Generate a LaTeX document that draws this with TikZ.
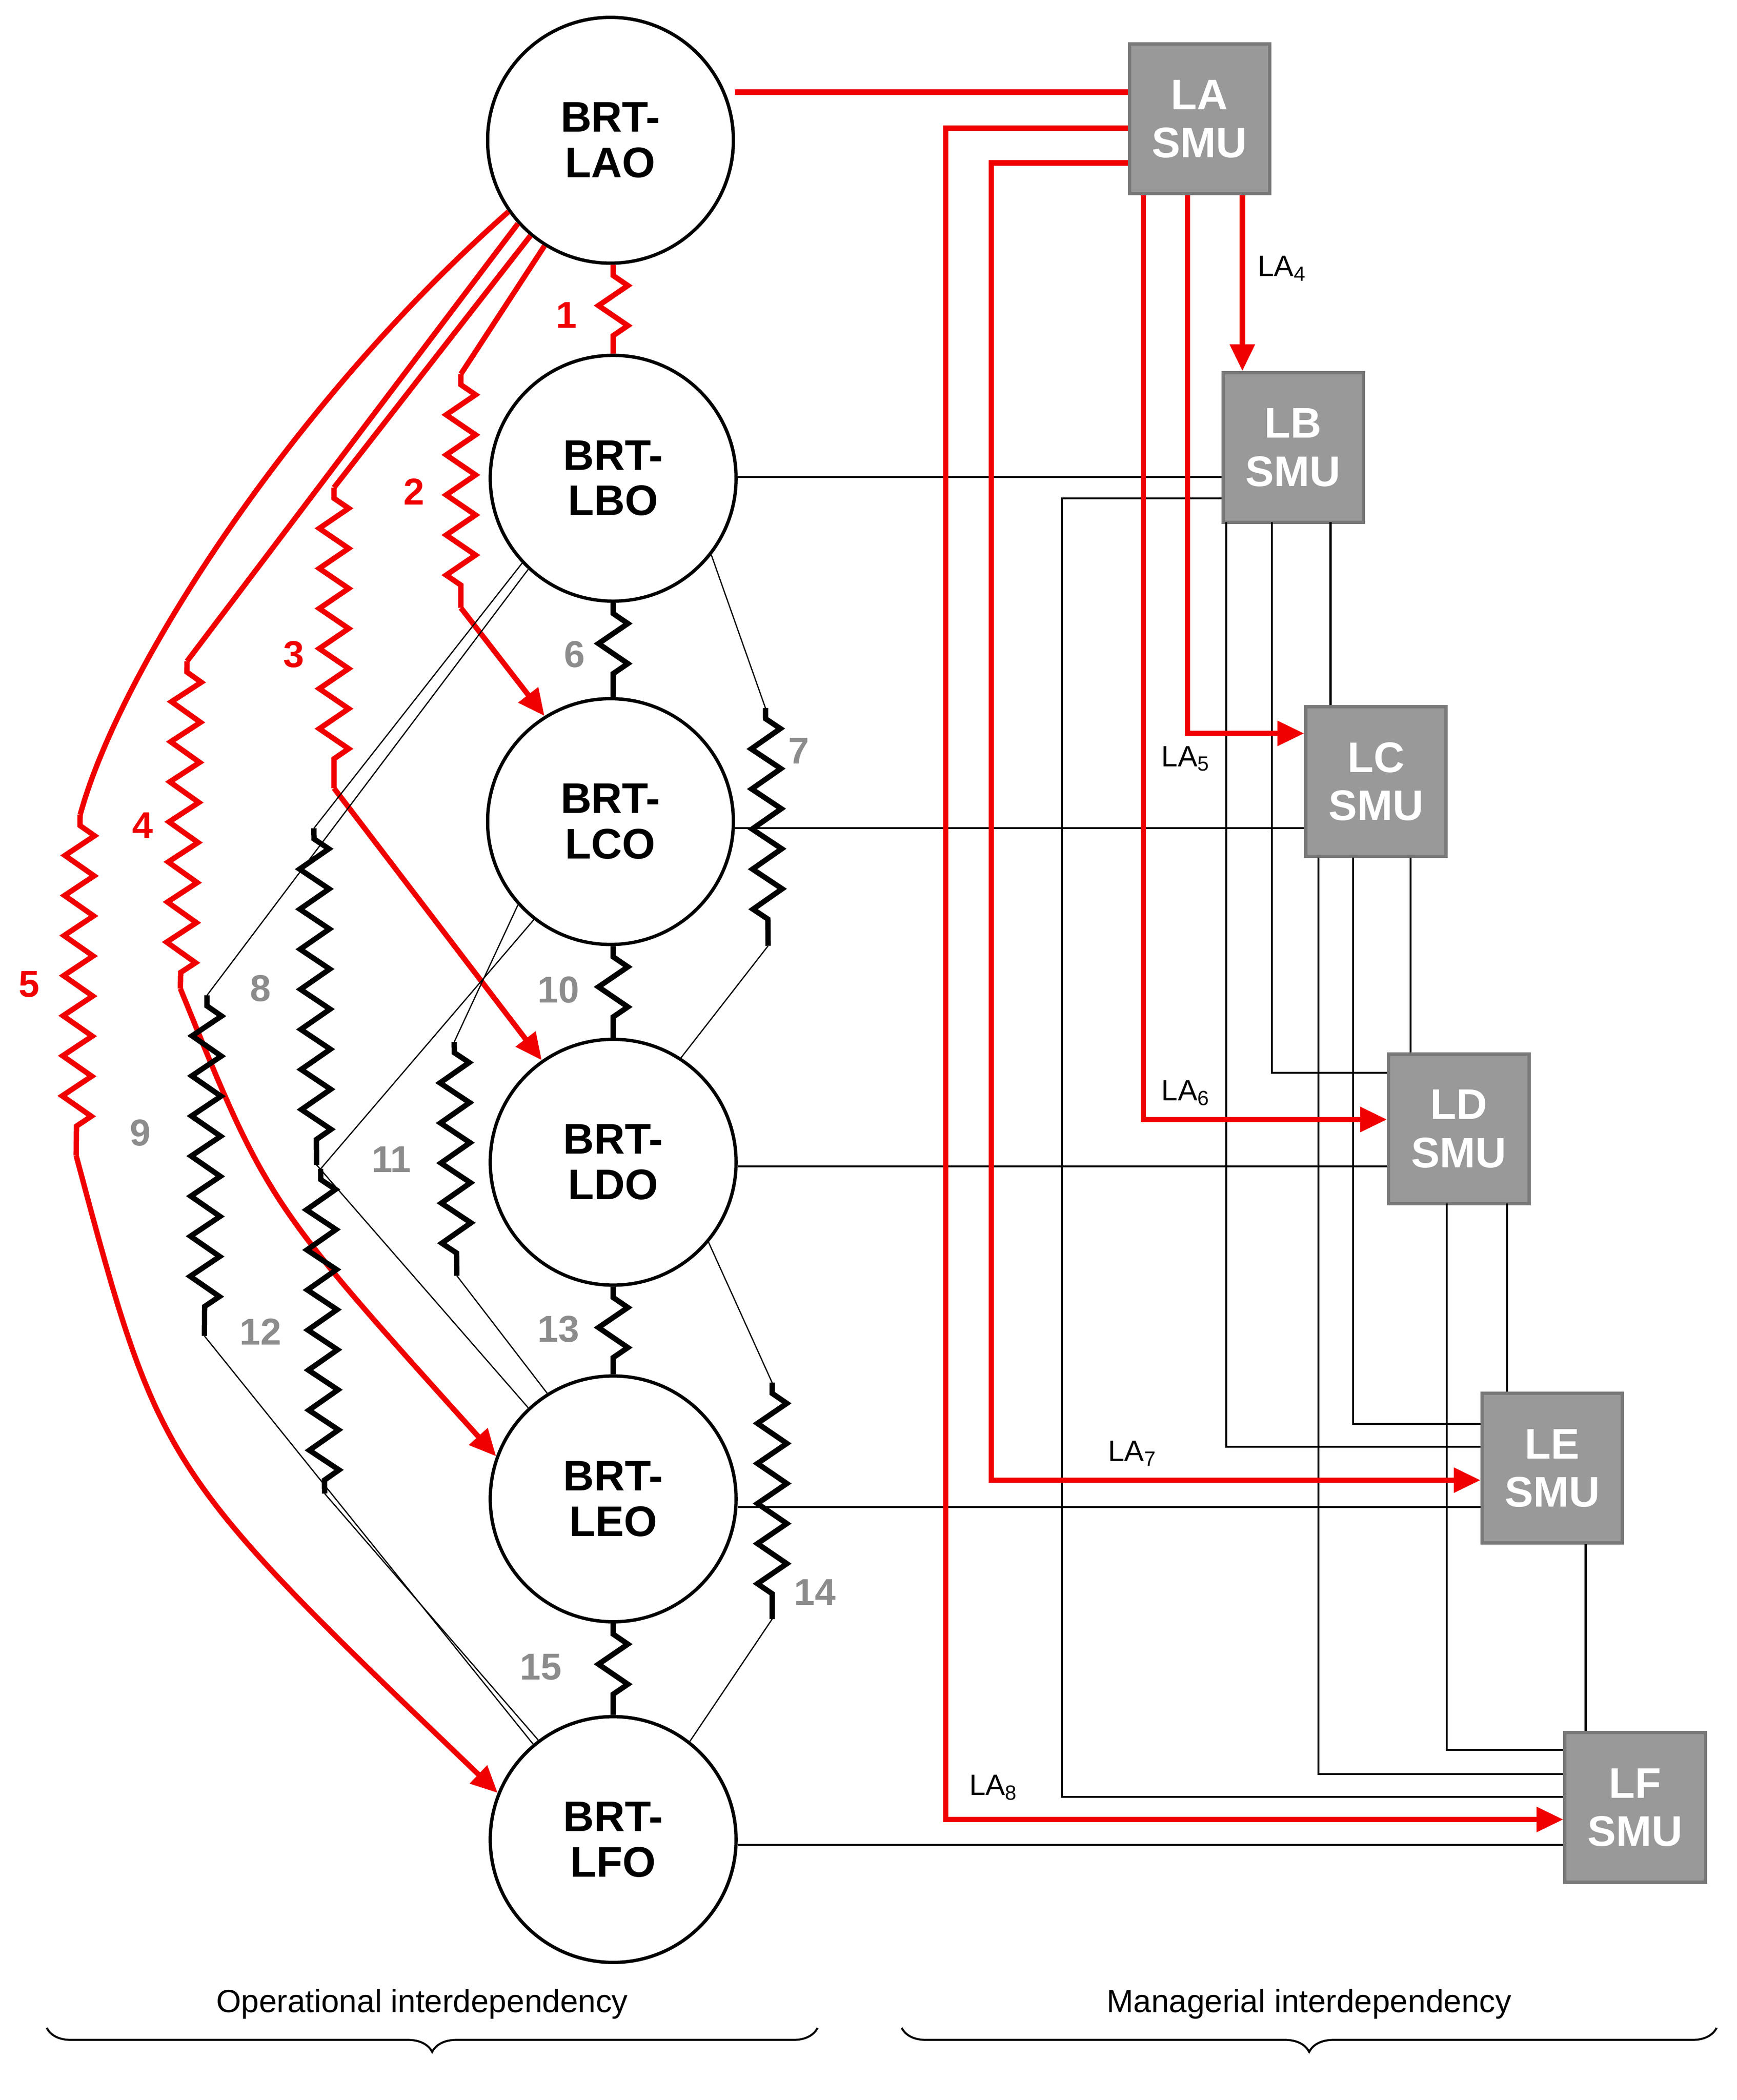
\documentclass[tikz,border=0pt]{standalone}
\usepackage{fontspec}
\setmainfont{Liberation Sans}
\usetikzlibrary{arrows.meta,decorations.pathmorphing,decorations.pathreplacing}
\definecolor{rd}{RGB}{240,0,0}
\definecolor{bx}{RGB}{153,153,153}
\definecolor{bxl}{RGB}{120,120,120}
\definecolor{gnum}{RGB}{140,140,140}
\begin{document}
\begin{tikzpicture}[x=1pt,y=-1pt,
 brt/.style={circle,draw,line width=2.5pt,minimum size=184pt,inner sep=0pt,align=center,font=\fontsize{32}{34}\selectfont\bfseries},
 smu/.style={rectangle,draw=bxl,fill=bx,line width=2.5pt,minimum width=105pt,minimum height=112pt,align=center,text=white,font=\fontsize{32}{36}\selectfont\bfseries},
 red/.style={draw=rd,line width=4pt},
 ra/.style={red,-{Triangle[length=20pt,width=18pt]}},
 thin/.style={draw=black,line width=1.5pt},
 hair/.style={draw=black,line width=0.9pt},
 spr/.style={decorate,decoration={zigzag,segment length=30pt,amplitude=11pt,pre length=8pt,post length=8pt}},
 bs/.style={draw=black,line width=4pt},
 lab/.style={font=\fontsize{22}{22}\selectfont},
 num/.style={font=\fontsize{28}{28}\selectfont\bfseries,text=gnum},
 rnum/.style={font=\fontsize{28}{28}\selectfont\bfseries,text=rd},
 bt/.style={font=\fontsize{24}{24}\selectfont}]
\useasboundingbox (0,0) rectangle (1300,1572);
% nodes
\node[brt] (lao) at (457,105) {BRT-\\LAO};
\node[brt] (lbo) at (459,358) {BRT-\\LBO};
\node[brt] (lco) at (457,615) {BRT-\\LCO};
\node[brt] (ldo) at (459,870) {BRT-\\LDO};
\node[brt] (leo) at (459,1122) {BRT-\\LEO};
\node[brt] (lfo) at (459,1377) {BRT-\\LFO};
\node[smu] (la) at (898,89) {LA\\SMU};
\node[smu] (lb) at (968,335) {LB\\SMU};
\node[smu] (lc) at (1030,585) {LC\\SMU};
\node[smu] (ld) at (1092,845) {LD\\SMU};
\node[smu] (le) at (1162,1099) {LE\\SMU};
\node[smu] (lf) at (1224,1353) {LF\\SMU};
% managerial black
\draw[thin] (lbo.east |- 0,357) -- (lb.west |- 0,357);
\draw[thin] (lco.east |- 0,620) -- (lc.west |- 0,620);
\draw[thin] (ldo.east |- 0,873) -- (ld.west |- 0,873);
\draw[thin] (leo.east |- 0,1128) -- (le.west |- 0,1128);
\draw[thin] (lfo.east |- 0,1381) -- (lf.west |- 0,1381);
\draw[thin] (lb.west |- 0,373) -| (795,1345) -- (lf.west |- 0,1345);
\draw[thin] (918,391) |- (le.west |- 0,1083);
\draw[thin] (952,391) |- (ld.west |- 0,803);
\draw[thin] (996,391) -- (lc.north -| 996,0);
\draw[thin] (987,642) |- (lf.west |- 0,1328);
\draw[thin] (1013,642) |- (le.west |- 0,1066);
\draw[thin] (1056,642) -- (ld.north -| 1056,0);
\draw[thin] (1083,901) |- (lf.west |- 0,1310);
\draw[thin] (1128,901) -- (le.north -| 1128,0);
\draw[thin] (1187,1156) -- (lf.north -| 1187,0);
% managerial red
\draw[red] (lao.east |- 0,69) -- (la.west |- 0,69);
\draw[ra] (la.west |- 0,96) -| (708,1362) -- (lf.west |- 0,1362);
\draw[ra] (la.west |- 0,122) -| (742,1108) -- (le.west |- 0,1108);
\draw[ra] (856,146) |- (ld.west |- 0,838);
\draw[ra] (889,146) |- (lc.west |- 0,549);
\draw[ra] (930,146) -- (lb.north -| 930,0);
\node[lab,anchor=west] at (938,201) {LA\textsubscript{4}};
\node[lab,anchor=west] at (866,568) {LA\textsubscript{5}};
\node[lab,anchor=west] at (866,818) {LA\textsubscript{6}};
\node[lab,anchor=west] at (826,1088) {LA\textsubscript{7}};
\node[lab,anchor=west] at (722,1338) {LA\textsubscript{8}};
% vertical springs between circles
\draw[red,spr] (lao.south -| 459,0) -- (lbo.north -| 459,0);
\draw[bs,spr] (lbo.south -| 459,0) -- (lco.north -| 459,0);
\draw[bs,spr] (lco.south -| 459,0) -- (ldo.north -| 459,0);
\draw[bs,spr] (ldo.south -| 459,0) -- (leo.north -| 459,0);
\draw[bs,spr] (leo.south -| 459,0) -- (lfo.north -| 459,0);
\node[rnum] at (424,236) {1};
\node[num] at (430,490) {6};
\node[num] at (418,741) {10};
\node[num] at (418,995) {13};
\node[num] at (405,1248) {15};
% red operational
\draw[red] (lao.-122) -- (345,280);
\draw[red,spr] (345,280) -- (345,455);
\draw[ra] (345,455) -- (lco.122);
\node[rnum] at (310,368) {2};
\draw[red] (lao.-130) -- (250,365);
\draw[red,spr] (250,365) -- (250,590);
\draw[ra] (250,590) -- (ldo.125);
\node[rnum] at (220,490) {3};
\draw[red] (lao.-138) -- (140,495);
\draw[red,spr] (140,495) -- (135,740);
\draw[ra] (135,740) .. controls (200,900) .. (leo.160);
\node[rnum] at (107,618) {4};
\draw[red] (lao.-145) .. controls (220,300) and (90,500) .. (60,610);
\draw[red,spr] (60,610) -- (57,865);
\draw[ra] (57,865) .. controls (120,1100) .. (lfo.158);
\node[rnum] at (22,737) {5};
% black operational
\draw[hair] (lbo.-38) -- (573,530);
\draw[bs,spr] (573,530) -- (575,708);
\draw[hair] (575,708) -- (ldo.57);
\node[num] at (598,562) {7};
\draw[hair] (ldo.-40) -- (578,1035);
\draw[bs,spr] (578,1035) -- (578,1212);
\draw[hair] (578,1212) -- (lfo.52);
\node[num] at (610,1192) {14};
\draw[hair] (lbo.-137) -- (235,620);
\draw[bs,spr] (235,620) -- (237,872);
\draw[hair] (237,872) -- (leo.133);
\node[num] at (195,740) {8};
\draw[hair] (lbo.-133) -- (155,745);
\draw[bs,spr] (155,745) -- (153,1000);
\draw[hair] (153,1000) -- (lfo.130);
\node[num] at (105,848) {9};
\draw[hair] (lco.-138) -- (340,780);
\draw[bs,spr] (340,780) -- (342,955);
\draw[hair] (342,955) -- (leo.122);
\node[num] at (293,868) {11};
\draw[hair] (lco.-128) -- (240,875);
\draw[bs,spr] (240,875) -- (243,1118);
\draw[hair] (243,1118) -- (lfo.127);
\node[num] at (195,997) {12};
% braces
\draw[line width=1.5pt,decorate,decoration={brace,mirror,amplitude=18pt}] (35,1518) -- (612,1518);
\draw[line width=1.5pt,decorate,decoration={brace,mirror,amplitude=18pt}] (675,1518) -- (1285,1518);
\node[bt] (op) at (316,1500) {Operational interdependency};
\node[bt] (mg) at (980,1500) {Managerial interdependency};
\end{tikzpicture}
\end{document}
